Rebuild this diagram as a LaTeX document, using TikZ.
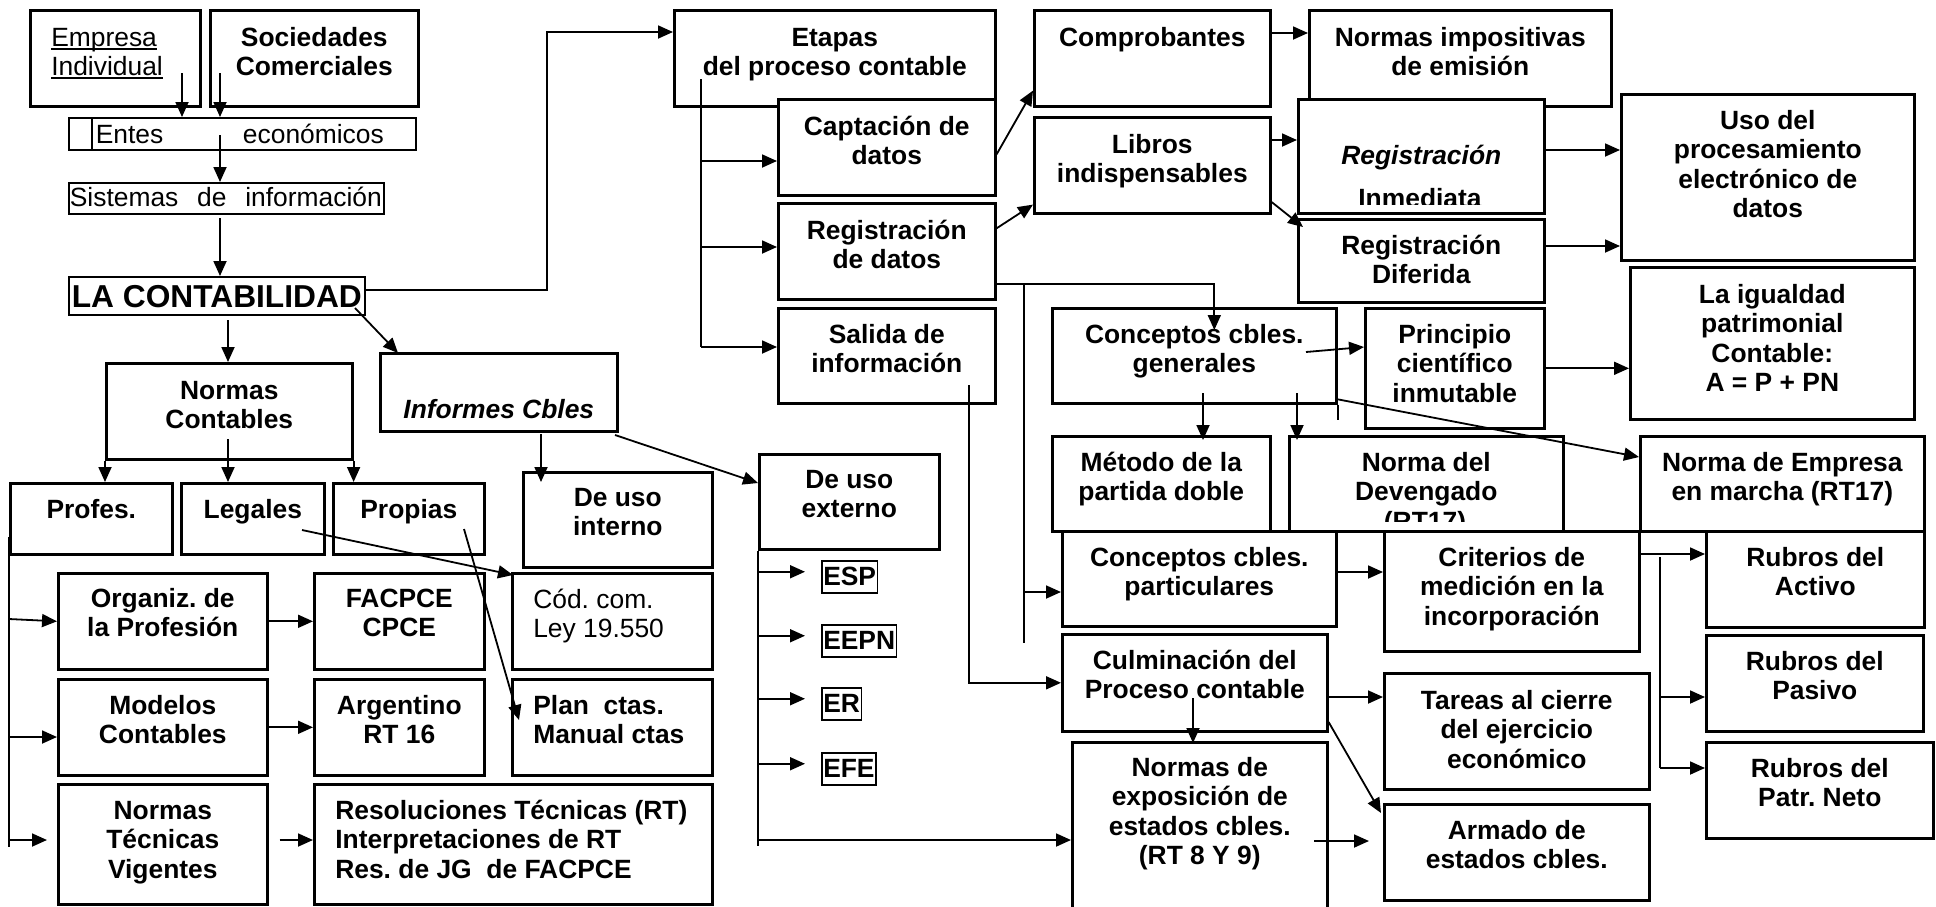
\documentclass[tikz,border=0pt]{standalone}
\usepackage{fontspec}
\setmainfont{Liberation Sans}
\usetikzlibrary{arrows.meta}
\usetikzlibrary{calc}
\frenchspacing

\newcommand\caja[8][\centering]{%
  \node[box, name=#2] at (#3,#4)
    {\parbox[c][\dimexpr#6pt-#4pt\relax][t]{\dimexpr#5pt-#3pt\relax}{#1\rule{0pt}{#7pt}#8}};}
\newcommand\undl[1]{\leavevmode\setbox0=\hbox{#1}\rlap{\rule[-3.2pt]{\wd0}{1.6pt}}\box0}

\begin{document}
\begin{tikzpicture}[x=1pt, y=-1pt,
    font=\bfseries\fontsize{26.4}{29.5}\selectfont,
    line width=1.8pt,
    box/.style={draw, fill=white, line width=2.6pt, inner sep=0pt, anchor=north west},
    thinbox/.style={box, line width=1.7pt},
    tag/.style={box, line width=1.5pt, inner xsep=1.5pt, text height=25pt, text depth=7pt},
    arr/.style={-{Triangle[length=15pt,width=13pt]}}]

  \useasboundingbox (0,0) rectangle (1936,906);

  \caja[\raggedright\leftskip=21pt\relax\mdseries]{emp}{29}{9}{199}{105}{36}{\undl{Empresa}\\\undl{Individual}}
  \caja{soc}{209}{9}{417}{105}{36}{Sociedades\\Comerciales}
  \node[thinbox, name=entesl, minimum width=23pt, minimum height=32pt] at (68,117) {};
  \node[thinbox, name=entes, text depth=6pt] at (91,117)
    {\hbox to 324pt{\mdseries\rule{0pt}{26pt}\hspace{4pt}Entes\hfill económicos\hspace{32pt}}};
  \node[thinbox, name=sist, text depth=7pt] at (68,182)
    {\hbox to 315pt{\mdseries\rule{0pt}{24pt}\hspace{1pt}Sistemas\hfill de\hfill información\hspace{2pt}}};
  \node[thinbox, name=lacont, font=\bfseries\fontsize{31.7}{36}\selectfont, text depth=7pt] at (68,276)
    {\hbox to 296pt{\rule{0pt}{31pt}\hfil LA CONTABILIDAD\hfil}};

  \caja{normas}{105}{362}{351}{458}{36}{Normas\\Contables}
  \caja{profes}{9}{482}{171}{553}{35}{Profes.}
  \caja{legales}{180}{482}{323}{553}{35}{Legales}
  \caja{propias}{332}{482}{483}{553}{35}{Propias}
  \caja{informes}{379}{352}{616}{430}{36}{\\\itshape Informes Cbles}
  \caja{interno}{522}{471}{711}{566}{34}{De uso\\interno}
  \caja{externo}{758}{453}{938}{548}{34}{De uso\\externo}
  \caja{organiz}{57}{572}{266}{668}{34}{Organiz. de\\la Profesión}
  \caja{facpce}{313}{572}{483}{668}{34}{FACPCE\\CPCE}
  \caja[\raggedright\leftskip=21pt\relax\mdseries]{codcom}{511}{572}{711}{668}{35}{Cód. com.\\Ley 19.550}
  \caja{modelos}{57}{678}{266}{774}{35}{Modelos\\Contables}
  \caja{argent}{313}{678}{483}{774}{35}{Argentino\\RT 16}
  \caja[\raggedright\leftskip=21pt\relax]{plan}{511}{678}{711}{774}{35}{Plan\ \ ctas.\\Manual ctas}
  \caja{normtec}{57}{783}{266}{903}{35}{Normas\\Técnicas\\Vigentes}
  \caja[\raggedright\leftskip=21pt\relax]{resol}{313}{783}{711}{903}{35}{Resoluciones Técnicas (RT)\\Interpretaciones de RT\\Res. de JG\ \ de FACPCE}
  \node[tag, name=esp] at (821,560) {ESP};
  \node[tag, name=eepn] at (821,624) {EEPN};
  \node[tag, name=er] at (821,687) {ER};
  \node[tag, name=efe] at (821,752) {EFE};

  \caja{etapas}{673}{9}{994}{105}{36}{Etapas\\del proceso contable}
  \caja{capt}{777}{98}{994}{194}{36}{Captación de\\datos}
  \caja{regis}{777}{202}{994}{298}{36}{Registración\\de datos}
  \caja{salida}{777}{307}{994}{402}{35}{Salida de\\información}
  \caja{compr}{1033}{9}{1269}{105}{36}{Comprobantes}
  \caja{libros}{1033}{116}{1269}{212}{36}{Libros\\indispensables}
  \caja{normimp}{1308}{9}{1610}{105}{36}{Normas impositivas\\de emisión}
  \caja{inmed}{1297}{98}{1543}{212}{36}{\\\itshape Registración}
  \begin{scope}
    \clip (inmed.north west) rectangle ([yshift=10pt]inmed.south east);
    \node[name=inmedt, anchor=base] at (1420,207) {Inmediata};
  \end{scope}
  \caja{difer}{1297}{218}{1543}{301}{35}{Registración\\Diferida}
  \caja{uso}{1620}{93}{1913}{259}{35}{Uso del\\procesamiento\\electrónico de\\datos}
  \caja{cgen}{1051}{307}{1335}{402}{35}{Conceptos cbles.\\generales}
  \caja{princ}{1364}{307}{1543}{427}{35}{Principio\\científico\\inmutable}
  \caja{iguald}{1629}{266}{1913}{418}{36}{La igualdad\\patrimonial\\Contable:\\A = P + PN}
  \caja{metodo}{1051}{435}{1269}{530}{35}{Método de la\\partida doble}
  \caja{deveng}{1288}{435}{1562}{530}{35}{Norma del\\Devengado}
  \begin{scope}
    \clip (deveng.north west) rectangle ([yshift=11pt]deveng.south east);
    \node[name=devengt, anchor=base] at (1425,530) {(RT17)};
  \end{scope}
  \caja{emarcha}{1639}{435}{1923}{530}{35}{Norma de Empresa\\en marcha (RT17)}
  \caja{cpart}{1061}{530}{1335}{625}{35}{Conceptos cbles.\\particulares}
  \caja{criter}{1383}{530}{1638}{650}{35}{Criterios de\\medición en la\\incorporación}
  \caja{ractivo}{1705}{530}{1923}{626}{35}{Rubros del\\Activo}
  \caja{culmin}{1061}{633}{1326}{730}{35}{Culminación del\\Proceso contable}
  \caja{normexp}{1071}{741}{1326}{930}{34}{Normas de\\exposición de\\estados cbles.\\(RT 8 Y 9)}
  \caja{tareas}{1383}{672}{1648}{788}{36}{Tareas al cierre\\del ejercicio\\económico}
  \caja{armado}{1383}{803}{1648}{899}{35}{Armado de\\estados cbles.}
  \caja{rpasivo}{1705}{634}{1922}{730}{35}{Rubros del\\Pasivo}
  \caja{rpatr}{1705}{741}{1932}{837}{35}{Rubros del\\Patr. Neto}

  % conectores
  \coordinate (empo) at (182,73);
  \coordinate (soco) at (220,73);
  \path (empo) edge[arr] (empo |- entes.north);
  \path (soco) edge[arr] (soco |- entes.north);
  \coordinate (enteso) at (220,135);
  \path (enteso) edge[arr] (enteso |- sist.north);
  \coordinate (sisto) at (220,218);
  \path (sisto) edge[arr] (sisto |- lacont.north);
  \coordinate (subir) at (547,32);
  \draw[arr] ([yshift=6pt]lacont.east) -| (subir) -- (subir -| etapas.west);
  \coordinate (lacso) at (355,308);
  \path (lacso) edge[arr] ($(informes.north west)+(19,1)$);
  \coordinate (lacbo) at (228,320);
  \path (lacbo) edge[arr] (lacbo |- normas.north);
  \path (normas.south west) edge[arr] (normas.south west |- profes.north);
  \coordinate (normo) at (228,439);
  \path (normo) edge[arr] (normo |- legales.north);
  \path (normas.south east) edge[arr] (normas.south east |- propias.north);

  \coordinate (prof1) at (9,537);
  \coordinate (prof2) at (9,847);
  \draw (prof1) -- (prof2);
  \path (prof1 |- 0,619) edge[arr] (organiz.west);
  \path (prof1 |- 0,737) edge[arr] (modelos.west |- 0,737);
  \path (prof1 |- 0,840) edge[arr] ($(normtec.west |- 0,840)+(-10,0)$);
  \path (organiz.east) edge[arr] (organiz.east -| facpce.west);
  \path (modelos.east) edge[arr] (modelos.east -| argent.west);
  \path ($(normtec.east |- 0,840)+(11,0)$) edge[arr] (resol.west |- 0,840);
  \coordinate (legao) at (302,530);
  \path (legao) edge[arr] ($(codcom.north west)+(2,3)$);
  \coordinate (propo) at (464,529);
  \path (propo) edge[arr] ($(plan.north west)+(8,42)$);

  \coordinate (info1) at (541,434);
  \path (info1) edge[arr] ($(info1 |- interno.north)+(0,11)$);
  \coordinate (info2) at (615,435);
  \path (info2) edge[arr] ($(externo.north west)+(0,30)$);
  \coordinate (ext1) at (758,846);
  \draw (externo.south west) -- (ext1);
  \foreach \t in {esp,eepn,er,efe}
    \path ($(ext1 |- \t.west)+(0,-5)$) edge[arr] ($(\t.west)+(-16,-5)$);
  \path (ext1 |- 0,840) edge[arr] (normexp.west |- 0,840);

  \coordinate (etp1) at (701,79);
  \draw (etp1) -- (etp1 |- 0,347);
  \foreach \n/\y in {capt/161,regis/247,salida/347}
    \path (etp1 |- 0,\y) edge[arr] (\n.west |- 0,\y);
  \path ([yshift=-7pt]capt.east) edge[arr] ([yshift=17pt]compr.south west);
  \path ([yshift=23pt]regis.east) edge[arr] ([yshift=10pt]libros.south west);
  \draw[arr] ([yshift=-33pt]regis.east) -| ($(cgen.north)+(20,23)$);
  \coordinate (rv1) at (1024,283);
  \coordinate (rv2) at (1024,643);
  \draw (rv1) -- (rv2);
  \path (rv1 |- 0,592) edge[arr] (cpart.west |- 0,592);
  \coordinate (sal1) at (969,385);
  \draw[arr] (sal1) |- (culmin.west);

  \path (compr.east |- 0,33) edge[arr] (normimp.west |- 0,33);
  \path (libros.east |- 0,140) edge[arr] (inmed.west |- 0,140);
  \path (libros.east |- 0,202) edge[arr] ($(difer.north west)+(6,9)$);
  \path (inmed.east |- 0,150) edge[arr] (uso.west |- 0,150);
  \path (difer.east |- 0,246) edge[arr] (uso.west |- 0,246);
  \coordinate (cg1) at (1306,352);
  \path (cg1) edge[arr] (princ.west |- 0,347);
  \path (princ.east) edge[arr] (princ.east -| iguald.west);
  \coordinate (cg2) at (1203,393);
  \path (cg2) edge[arr] ($(cg2 |- metodo.north)+(0,5)$);
  \coordinate (cg3) at (1297,393);
  \path (cg3) edge[arr] ($(cg3 |- deveng.north)+(0,5)$);
  \draw (cgen.south east) -- ++(0,15);
  \coordinate (cg4) at (1336,399);
  \path (cg4) edge[arr] ($(emarcha.north west)+(0,22)$);
  \path (cpart.east |- 0,572) edge[arr] (criter.west |- 0,572);
  \path (criter.east |- 0,554) edge[arr] (ractivo.west |- 0,554);
  \coordinate (cr1) at (1660,557);
  \coordinate (cr2) at (1660,768);
  \draw (cr1) -- (cr2);
  \path (cr1 |- 0,697) edge[arr] (rpasivo.west |- 0,697);
  \path (cr2) edge[arr] (cr2 -| rpatr.west);
  \path (culmin.east |- 0,697) edge[arr] (tareas.west |- 0,697);
  \path (culmin.east |- 0,722) edge[arr] ($(armado.north west)+(-2,10)$);
  \coordinate (cu1) at (1193,698);
  \path (cu1) edge[arr] ($(cu1 |- normexp.north)+(0,2)$);
  \coordinate (ne1) at (1314,841);
  \path (ne1) edge[arr] ($(ne1 -| armado.west)+(-14,0)$);
\end{tikzpicture}
\end{document}
